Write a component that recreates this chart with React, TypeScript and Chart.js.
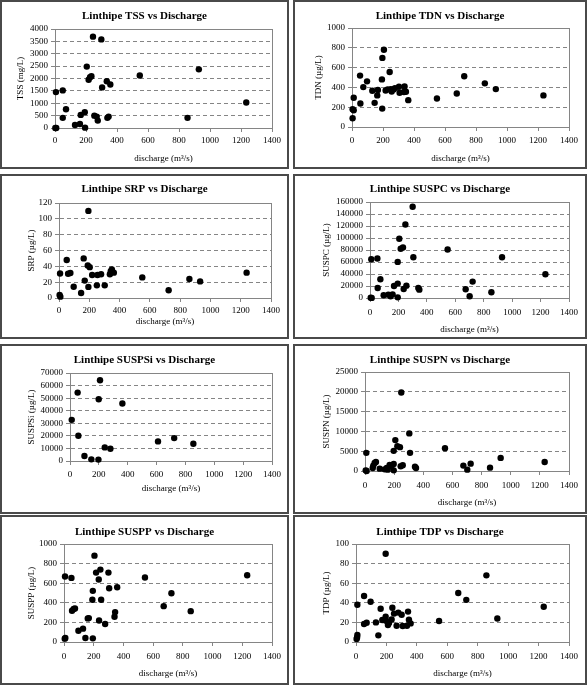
import { useEffect, useRef } from "react";
import { Chart, registerables } from "chart.js";

Chart.register(...registerables);

// ---- data: discharge (m3/s) and measured concentration for each parameter ----
const tssDischarge = [2, 6, 8, 50, 50, 71, 129, 161, 166, 192, 194, 205, 217, 226, 235, 245, 254, 269, 276, 299, 304, 334, 338, 346, 357, 547, 855, 928, 1234];
const tssValues = [0, 1450, 0, 1520, 410, 760, 120, 160, 530, 640, 15, 2480, 1950, 2050, 2090, 3690, 500, 460, 300, 3580, 1640, 1890, 410, 460, 1760, 2120, 410, 2370, 1030];

const tdnDischarge = [4, 4, 11, 11, 52, 54, 73, 97, 131, 146, 163, 167, 193, 195, 196, 206, 217, 230, 243, 251, 256, 268, 277, 303, 307, 335, 339, 348, 363, 548, 676, 724, 857, 928, 1235];
const tdnValues = [88, 180, 169, 295, 519, 237, 403, 461, 366, 244, 319, 373, 481, 186, 698, 780, 369, 380, 556, 383, 359, 380, 393, 407, 346, 353, 410, 356, 271, 288, 339, 512, 441, 383, 319];

const srpDischarge = [4, 9, 7, 51, 60, 75, 97, 146, 163, 170, 190, 194, 194, 203, 219, 250, 254, 278, 302, 336, 342, 349, 362, 550, 724, 861, 932, 1239];
const srpValues = [3.8, 1.7, 31, 48, 30.6, 31.5, 14.3, 6.3, 50, 22, 41, 110, 14, 39, 29, 16, 29, 30, 16, 30, 34, 36, 32, 26, 9.7, 24, 21, 32];

const suspcDischarge = [5, 12, 9, 52, 54, 73, 96, 129, 145, 159, 169, 195, 195, 206, 195, 216, 232, 237, 249, 256, 300, 305, 340, 347, 546, 673, 701, 722, 854, 929, 1234];
const suspcValues = [600, 200, 64700, 65800, 16700, 31200, 4500, 5600, 2800, 6100, 20100, 24000, 60200, 98700, 1100, 82000, 84200, 15000, 122600, 20600, 152200, 68000, 16700, 13900, 80800, 14500, 2800, 27300, 9500, 68000, 39600];

const suspsiDischarge = [12, 53, 58, 100, 148, 197, 199, 208, 241, 280, 363, 610, 722, 855];
const suspsiValues = [32750, 54400, 20100, 4000, 1300, 1100, 49100, 64200, 10800, 9800, 45700, 15600, 18200, 13700];

const suspnDischarge = [5, 11, 9, 53, 57, 66, 75, 101, 135, 149, 156, 169, 181, 197, 197, 197, 208, 222, 240, 249, 245, 259, 304, 309, 343, 350, 549, 675, 702, 725, 858, 931, 1233];
const suspnValues = [170, 0, 4580, 760, 1360, 2030, 2290, 590, 420, 760, 340, 1530, 1190, 1780, 170, 5090, 7800, 6270, 6020, 19830, 1190, 1440, 9490, 4580, 1100, 760, 5760, 1360, 340, 1860, 850, 3310, 2290];

const susppDischarge = [5, 9, 7, 50, 54, 65, 74, 97, 128, 144, 160, 167, 194, 191, 194, 205, 216, 234, 236, 245, 250, 277, 299, 304, 340, 344, 358, 545, 671, 723, 853, 1233];
const susppValues = [34, 41, 668, 654, 319, 336, 342, 115, 136, 41, 241, 244, 522, 431, 37, 881, 708, 637, 220, 739, 431, 183, 708, 549, 258, 305, 559, 658, 366, 498, 315, 681];

const tdpDischarge = [4, 7, 9, 9, 53, 53, 70, 96, 131, 147, 162, 173, 195, 195, 197, 210, 217, 234, 239, 250, 267, 278, 300, 307, 335, 342, 348, 359, 546, 672, 725, 857, 929, 1234];
const tdpValues = [3, 4.7, 7.1, 38, 47, 18.3, 19.7, 41, 20, 6.8, 34, 22.4, 90, 25.8, 21.7, 17.3, 19.3, 23, 35, 29, 16.6, 30, 27.8, 16.3, 16.6, 31, 22.7, 19, 21.4, 50, 43, 68, 24, 36];

// axis ranges
const xMax = 1400;
const xStep = 200;
const xTitle = "discharge (m³/s)";

// ---- styling ----
const FONT = "'Liberation Serif', 'Times New Roman', serif";
const TITLE_SIZE = 11;
const AXIS_SIZE = 9;
const BORDER = 2;
const TICK_LEN = 4;
const GREY = "#858585";

type Panel = {
  title: string;
  yLabel: string;
  xs: number[];
  ys: number[];
  yMax: number;
  yStep: number;
  box: [number, number, number, number]; // left, top, width, height (outer)
  plot: [number, number, number, number]; // left, right, top, bottom
  titleY: number;
  xLabelGap: number;
  xTitleY: number;
  yTitleX: number;
};

const panels: Panel[] = [
  { title: "Linthipe TSS vs Discharge", yLabel: "TSS (mg/L)", xs: tssDischarge, ys: tssValues, yMax: 4000, yStep: 500,
    box: [0, 0, 289, 169], plot: [55, 272, 29, 128], titleY: 16, xLabelGap: 12, xTitleY: 159, yTitleX: 21 },
  { title: "Linthipe TDN vs Discharge", yLabel: "TDN (µg/L)", xs: tdnDischarge, ys: tdnValues, yMax: 1000, yStep: 200,
    box: [293, 0, 294, 169], plot: [352, 569, 28, 127], titleY: 16, xLabelGap: 13, xTitleY: 159, yTitleX: 319 },
  { title: "Linthipe SRP vs Discharge", yLabel: "SRP (µg/L)", xs: srpDischarge, ys: srpValues, yMax: 120, yStep: 20,
    box: [0, 174, 289, 165], plot: [59, 271, 203, 298], titleY: 189, xLabelGap: 12, xTitleY: 322, yTitleX: 32 },
  { title: "Linthipe SUSPC vs Discharge", yLabel: "SUSPC (µg/L)", xs: suspcDischarge, ys: suspcValues, yMax: 160000, yStep: 20000,
    box: [293, 174, 294, 165], plot: [370, 569, 202, 298], titleY: 189, xLabelGap: 14, xTitleY: 330, yTitleX: 327 },
  { title: "Linthipe SUSPSi vs Discharge", yLabel: "SUSPSi (µg/L)", xs: suspsiDischarge, ys: suspsiValues, yMax: 70000, yStep: 10000,
    box: [0, 344, 289, 170], plot: [70, 272, 373, 461], titleY: 360, xLabelGap: 13, xTitleY: 489, yTitleX: 32 },
  { title: "Linthipe SUSPN vs Discharge", yLabel: "SUSPN (µg/L)", xs: suspnDischarge, ys: suspnValues, yMax: 25000, yStep: 5000,
    box: [293, 344, 294, 170], plot: [365, 569, 372, 471], titleY: 360, xLabelGap: 14, xTitleY: 503, yTitleX: 327 },
  { title: "Linthipe SUSPP vs Discharge", yLabel: "SUSPP (µg/L)", xs: susppDischarge, ys: susppValues, yMax: 1000, yStep: 200,
    box: [0, 515, 289, 170], plot: [64, 272, 544, 642], titleY: 532, xLabelGap: 14, xTitleY: 674, yTitleX: 32 },
  { title: "Linthipe TDP vs Discharge", yLabel: "TDP (µg/L)", xs: tdpDischarge, ys: tdpValues, yMax: 100, yStep: 20,
    box: [293, 515, 294, 170], plot: [356, 569, 544, 642], titleY: 532, xLabelGap: 14, xTitleY: 674, yTitleX: 327 },
];

// draws the grey frame round the plotting area
const framePlugin = {
  id: "plotFrame",
  beforeDatasetsDraw(chart: any) {
    const { ctx, chartArea } = chart;
    ctx.save();
    ctx.strokeStyle = GREY;
    ctx.lineWidth = 1;
    ctx.strokeRect(
      Math.round(chartArea.left) + 0.5,
      Math.round(chartArea.top) + 0.5,
      Math.round(chartArea.right - chartArea.left),
      Math.round(chartArea.bottom - chartArea.top)
    );
    ctx.restore();
  },
};

function ScatterPanel({ p }: { p: Panel }) {
  const ref = useRef<HTMLCanvasElement>(null);
  const [bl, bt, bw, bh] = p.box;
  const ox = bl + BORDER;
  const oy = bt + BORDER;
  const W = bw - 2 * BORDER;
  const H = bh - 2 * BORDER;

  useEffect(() => {
    if (!ref.current) return;
    const pl = p.plot[0] - ox;
    const pr = p.plot[1] - ox;
    const pt = p.plot[2] - oy;
    const pb = p.plot[3] - oy;
    const side = W - pr;

    const titleLine = TITLE_SIZE * 1.2;
    const titlePadTop = p.titleY - oy - titleLine / 2;
    const titlePadBottom = pt - titlePadTop - titleLine;

    const axisLine = AXIS_SIZE * 1.2;
    const yAxisWidth = pl - side;
    const xAxisHeight = H - pb;
    const xTitlePadBottom = H - (p.xTitleY - oy) - axisLine / 2;
    const yTitlePadTop = p.yTitleX - ox - side - axisLine / 2;
    const xTickPad = Math.max(0, p.xLabelGap - TICK_LEN - 5);

    const points = p.xs.map((x, i) => ({ x, y: p.ys[i] }));

    const chart = new Chart(ref.current, {
      type: "scatter",
      data: {
        datasets: [
          {
            data: points,
            backgroundColor: "#000",
            borderColor: "#000",
            borderWidth: 0,
            pointRadius: 3.2,
            pointHoverRadius: 3.2,
            clip: false as any,
          },
        ],
      },
      options: {
        animation: false,
        responsive: false,
        events: [],
        layout: { padding: { left: side, right: side, top: 0, bottom: 0 } },
        plugins: {
          legend: { display: false },
          tooltip: { enabled: false },
          title: {
            display: true,
            text: p.title,
            color: "#000",
            font: { family: FONT, size: TITLE_SIZE, weight: "bold" },
            padding: { top: titlePadTop, bottom: titlePadBottom },
          },
        },
        scales: {
          x: {
            type: "linear",
            min: 0,
            max: xMax,
            afterFit: (s: any) => {
              s.height = xAxisHeight;
            },
            ticks: {
              stepSize: xStep,
              autoSkip: false,
              color: "#000",
              padding: xTickPad,
              font: { family: FONT, size: AXIS_SIZE },
              maxRotation: 0,
              callback: (v: any) => String(v),
            },
            grid: {
              drawOnChartArea: false,
              drawTicks: true,
              tickLength: TICK_LEN,
              tickColor: GREY,
              color: GREY,
            },
            border: { display: true, color: GREY, width: 1 },
            title: {
              display: true,
              text: xTitle,
              color: "#000",
              font: { family: FONT, size: AXIS_SIZE },
              padding: { top: 0, bottom: xTitlePadBottom },
            },
          },
          y: {
            type: "linear",
            min: 0,
            max: p.yMax,
            afterFit: (s: any) => {
              s.width = yAxisWidth;
            },
            ticks: {
              stepSize: p.yStep,
              autoSkip: false,
              color: "#000",
              padding: 3,
              font: { family: FONT, size: AXIS_SIZE },
              callback: (v: any) => String(v),
            },
            grid: {
              drawOnChartArea: true,
              drawTicks: true,
              tickLength: TICK_LEN,
              tickColor: GREY,
              tickBorderDash: [],
              color: GREY,
              lineWidth: 1,
            },
            border: { display: true, color: GREY, width: 1, dash: [4, 3] },
            title: {
              display: true,
              text: p.yLabel,
              color: "#000",
              font: { family: FONT, size: AXIS_SIZE },
              padding: { top: yTitlePadTop, bottom: 0 },
            },
          },
        },
      },
      plugins: [framePlugin],
    } as any);

    return () => chart.destroy();
  }, [p]);

  return (
    <div
      style={{
        position: "absolute",
        left: bl,
        top: bt,
        width: W,
        height: H,
        border: `${BORDER}px solid #4a4a4a`,
        background: "#fff",
      }}
    >
      <canvas ref={ref} width={W} height={H} style={{ display: "block", width: W, height: H }} />
    </div>
  );
}

export default function App() {
  return (
    <div style={{ position: "absolute", left: 0, top: 0, width: 588, height: 689, background: "#fff" }}>
      {panels.map((p) => (
        <ScatterPanel key={p.title} p={p} />
      ))}
    </div>
  );
}
